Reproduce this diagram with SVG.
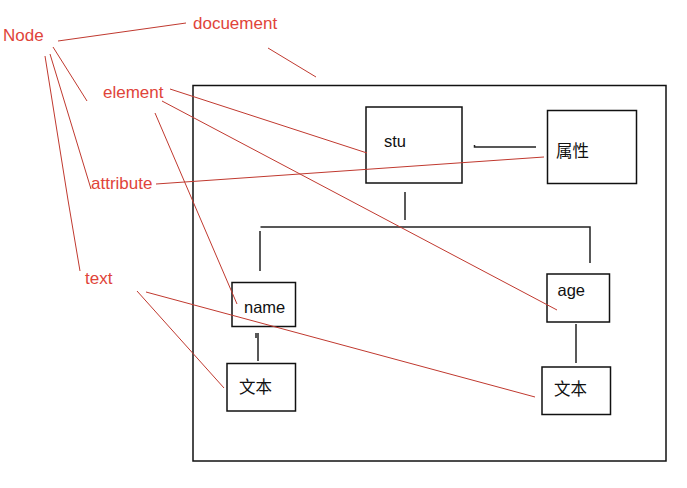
<svg xmlns="http://www.w3.org/2000/svg" width="687" height="488" viewBox="0 0 687 488">
<style>
.box{fill:none;stroke:#111;stroke-width:1.5}
.blk{stroke:#222;stroke-width:1.5;fill:none}
.red{stroke:#c0392f;stroke-width:1;fill:none}
.lbl{font-family:"Liberation Sans","Noto Sans CJK SC",sans-serif;font-size:16.5px;fill:#111}
.rt{font-family:"Liberation Sans",sans-serif;font-size:17px;fill:#e0443a}
</style>
<rect width="687" height="488" fill="#fff"/>
<g id="document"><rect class="box" x="193" y="85.5" width="473" height="375.5"/></g>
<g id="stu"><rect class="box" x="366" y="107" width="96" height="76"/><text class="lbl" x="384" y="147">stu</text></g>
<g id="attr"><rect class="box" x="547.5" y="110.5" width="89" height="73"/><text class="lbl" x="556" y="157" font-size="16">属性</text></g>
<g id="name"><rect class="box" x="232" y="282.5" width="63.5" height="44"/><text class="lbl" x="244" y="313">name</text></g>
<g id="text1"><rect class="box" x="227" y="363.5" width="68.5" height="47.5"/><text class="lbl" x="239" y="393" font-size="16">文本</text></g>
<g id="age"><rect class="box" x="547" y="274" width="62.5" height="48"/><text class="lbl" x="557.5" y="296">age</text></g>
<g id="text2"><rect class="box" x="542" y="367" width="68.5" height="47.5"/><text class="lbl" x="554" y="395" font-size="16">文本</text></g>
<g id="labels">
<text class="rt" x="3" y="41">Node</text>
<text class="rt" x="193" y="29">docuement</text>
<text class="rt" x="103" y="98">element</text>
<text class="rt" x="91" y="189">attribute</text>
<text class="rt" x="85" y="284">text</text>
</g>
<g id="connectors">
<path class="blk" d="M474.5 145 V147 H536"/>
<path class="blk" d="M405 192 V220"/>
<path class="blk" d="M260.5 227 H590 V263"/>
<path class="blk" d="M260 231 V271"/>
<path class="blk" d="M258 333 V361 M256 333 V338"/>
<path class="blk" d="M576 324 V363"/>
<path class="red" d="M58 41 L186 23"/>
<path class="red" d="M268 48 L316 77"/>
<path class="red" d="M53 47 L87 101"/>
<path class="red" d="M50 54 L91 189"/>
<path class="red" d="M45 56 L68 200 L80 271"/>
<path class="red" d="M170 89 L367 153"/>
<path class="red" d="M162 101 L557 310"/>
<path class="red" d="M155 113 L237 304"/>
<path class="red" d="M156 184 L544 157"/>
<path class="red" d="M137 291 L224 388"/>
<path class="red" d="M146 292 L535 397"/>
</g>
</svg>
